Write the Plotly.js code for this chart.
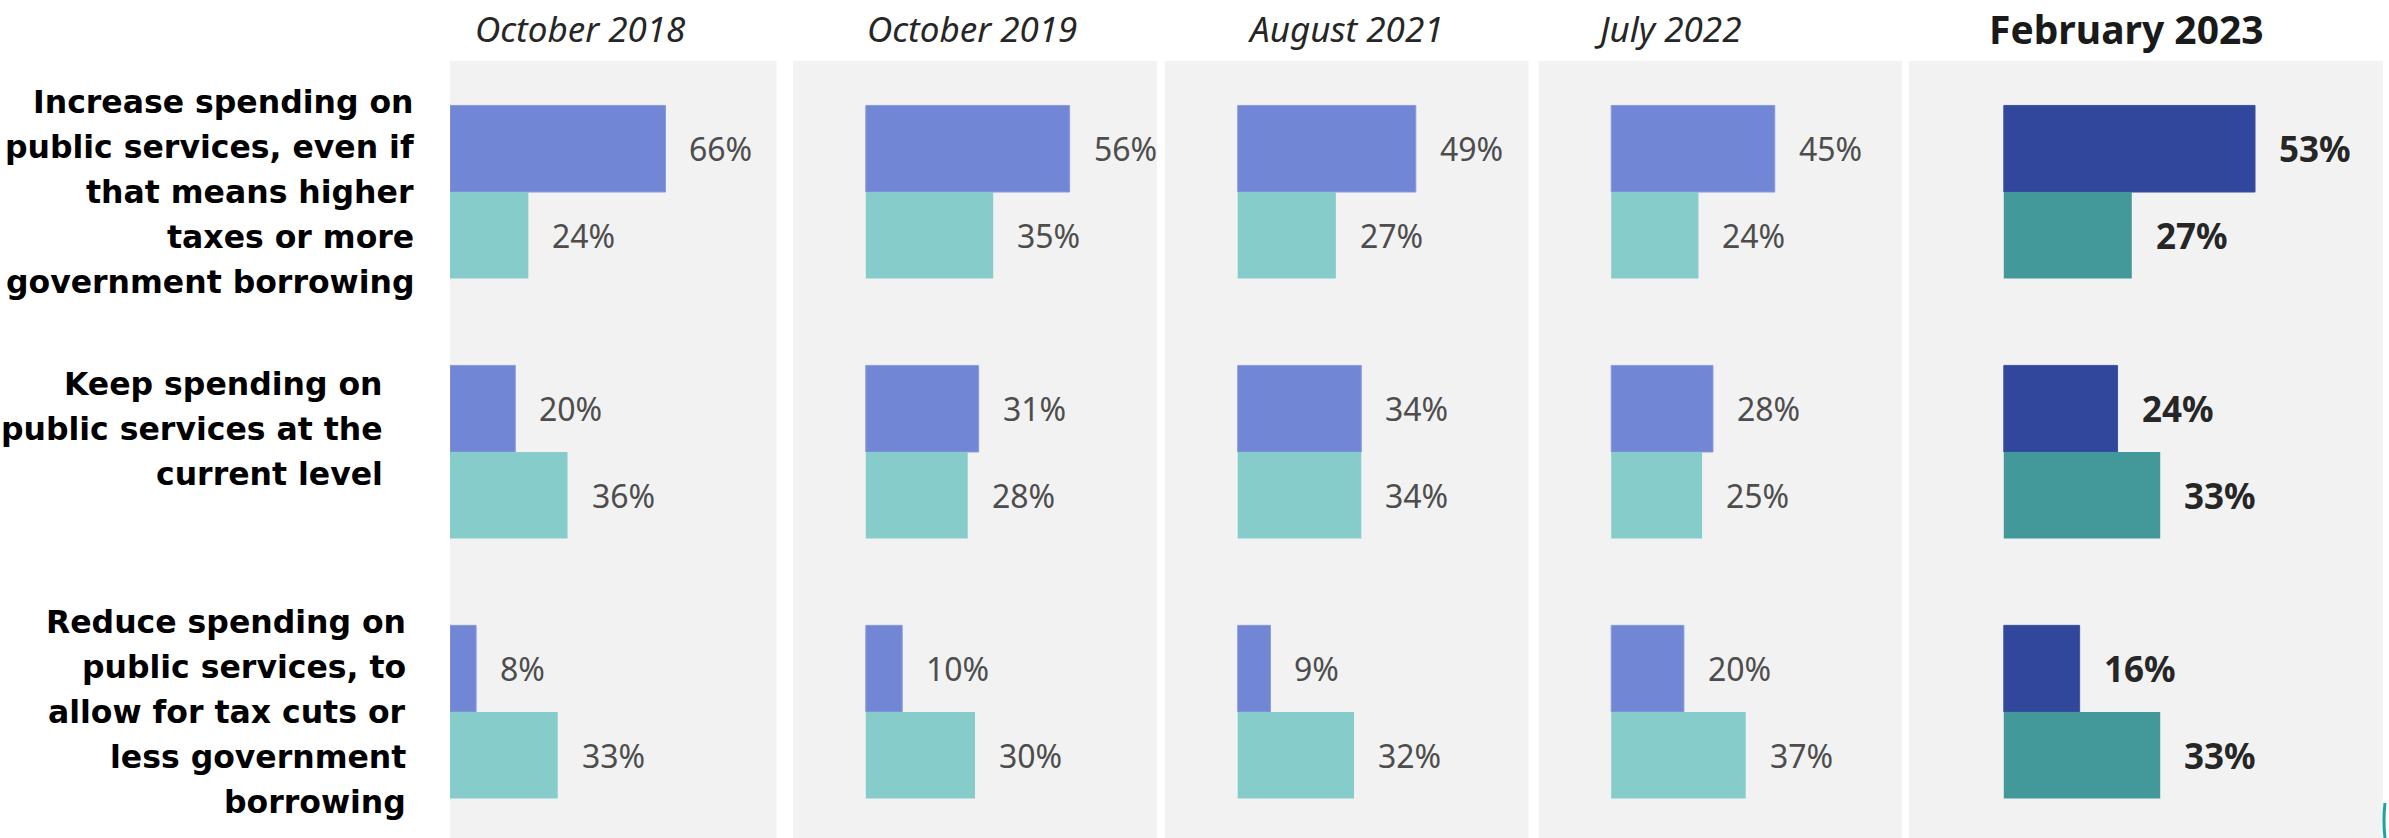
<!DOCTYPE html>
<html>
<head>
<meta charset="utf-8">
<script src="https://cdn.plot.ly/plotly-3.0.1.min.js"></script>
<style>
  html, body { margin: 0; padding: 0; background: #ffffff; }
  #chart { width: 2389px; height: 838px; }
</style>
</head>
<body>
<div id="chart"></div>
<script>
const periods = ["October 2018", "October 2019", "August 2021", "July 2022", "February 2023"];

const options = [
  ["Increase spending on", "public services, even if", "that means higher", "taxes or more", "government borrowing"],
  ["Keep spending on", "public services at the", "current level", ""],
  ["Reduce spending on", "public services, to", "allow for tax cuts or", "less government", "borrowing"]
];

// upper bar of each pair, one row per period (increase / keep / reduce)
const blueValues = [
  [66, 20, 8],
  [56, 31, 10],
  [49, 34, 9],
  [45, 28, 20],
  [53, 24, 16]
];

// lower bar of each pair
const tealValues = [
  [24, 36, 33],
  [35, 28, 30],
  [27, 34, 32],
  [24, 25, 37],
  [27, 33, 33]
];

const W = 2389, H = 838, TOP = 61;
const plotH = H - TOP;

// grey panels, left/right edge in px
const panels = [[450, 776.5], [793, 1157], [1165, 1528.5], [1538.5, 1902], [1909, 2383]];
const ranges = [[0, 100], [-20, 80], [-20, 80], [-20, 80], [-20, 80]];
const titleX = [580, 972, 1345, 1667, 2126];
const labelRight = [416, 385, 408];

const yPos = options.map((o, i) => i);
const data = [];
const annotations = [];
const layout = {
  width: W,
  height: H,
  margin: { l: 0, r: 0, t: TOP, b: 0 },
  paper_bgcolor: "#ffffff",
  plot_bgcolor: "#f2f2f2",
  barmode: "overlay",
  showlegend: false,
  yaxis: {
    domain: [0, 1],
    range: [2.485, -0.504],
    showticklabels: false, showgrid: false, zeroline: false, showline: false, ticks: "",
    fixedrange: true,
  },
};

periods.forEach((period, p) => {
  const ax = p === 0 ? "x" : "x" + (p + 1);
  const last = p === periods.length - 1;

  data.push({
    type: "bar",
    orientation: "h",
    xaxis: ax,
    yaxis: "y",
    x: blueValues[p],
    y: yPos,
    width: 0.333,
    offset: -0.333,
    marker: {
      color: last ? "#31479b" : "#7186d4",
      line: { color: last ? "#3d53a5" : "#8a9ade", width: 1 },
    },
    hoverinfo: "none",
  });
  data.push({
    type: "bar",
    orientation: "h",
    xaxis: ax,
    yaxis: "y",
    x: tealValues[p],
    y: yPos,
    width: 0.333,
    offset: 0,
    marker: { color: last ? "#43999a" : "#85cccb", line: { width: 0 } },
    hoverinfo: "none",
  });

  layout[p === 0 ? "xaxis" : "xaxis" + (p + 1)] = {
    domain: [panels[p][0] / W, panels[p][1] / W],
    range: ranges[p],
    anchor: "y",
    showticklabels: false, showgrid: false, zeroline: false, showline: false, ticks: "",
    fixedrange: true,
  };

  // value labels
  const valueFont = last
    ? { family: "Noto Sans", size: 35, color: "#262626", weight: 700 }
    : { family: "Noto Sans", size: 32, color: "#4d4d4d" };
  [blueValues[p], tealValues[p]].forEach((vals, s) => {
    vals.forEach((v, i) => {
      annotations.push({
        xref: ax, yref: "y",
        x: v, y: i + (s === 0 ? -0.1665 : 0.1665),
        text: v + "%",
        showarrow: false,
        xanchor: "left", yanchor: "middle",
        xshift: 22,
        font: valueFont,
      });
    });
  });

  // period title
  annotations.push({
    xref: "paper", yref: "paper",
    x: titleX[p] / W, y: 1 + (TOP - 28) / plotH,
    text: period,
    showarrow: false,
    xanchor: "center", yanchor: "middle",
    font: last
      ? { family: "Noto Sans", size: 39, color: "#1a1a1a", weight: 700 }
      : { family: "Noto Sans", size: 35, color: "#262626", style: "italic" },
  });
});

// option labels, one annotation per line
options.forEach((lines, g) => {
  lines.forEach((line, k) => {
    if (!line) return;
    annotations.push({
      xref: "paper", yref: "y",
      x: labelRight[g] / W, y: g,
      yshift: ((lines.length - 1) / 2 - k) * 45,
      text: line,
      showarrow: false,
      xanchor: "right", yanchor: "middle",
      font: { family: "DejaVu Sans", size: 31.5, color: "#000000", weight: 700 },
    });
  });
});

layout.annotations = annotations;

// small teal mark cut off at the bottom right corner
layout.shapes = [{
  type: "path",
  xref: "paper", yref: "paper",
  path: "M " + (2385 / W) + " " + ((H - 803) / plotH) + " Q " + (2383 / W) + " " + ((H - 820) / plotH) + " " + (2385 / W) + " 0",
  line: { color: "#1aa3a3", width: 3 },
}];

var config = { displayModeBar: false, staticPlot: true };

Plotly.newPlot(document.getElementById("chart"), data, layout, config);
</script>
</body>
</html>
